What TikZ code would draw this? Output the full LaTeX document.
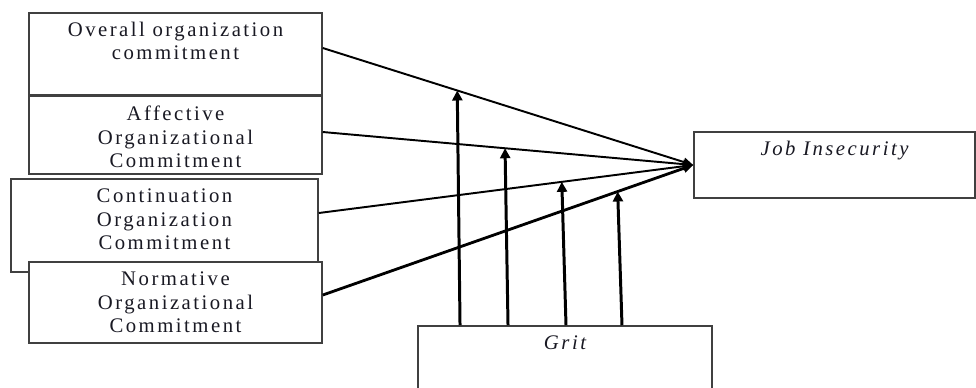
\documentclass[tikz,border=0pt]{standalone}
\usepackage{fontspec}
\setmainfont{Liberation Serif}
\newfontfamily\boxfont[LetterSpace=12]{Liberation Serif}
\definecolor{boxgray}{RGB}{64,64,64}
\definecolor{textdark}{RGB}{25,25,35}
\usetikzlibrary{positioning, arrows.meta}

\begin{document}
\begin{tikzpicture}[
    x=0.02cm, y=-0.02cm,
    varbox/.style={draw=boxgray, fill=white, line width=0.9pt, inner sep=0pt},
    boxtext/.style={font=\boxfont\fontsize{11.8}{13.3}\selectfont, text=textdark,
      align=center, inner sep=0pt},
    effect/.style={line width=1.1pt, -{Triangle[length=0.2cm, width=0.17cm]}},
    moderate/.style={line width=1.7pt, -{Triangle[length=0.2cm, width=0.2cm]}},
    node distance=0.21cm,
  ]
    \useasboundingbox (0,0) rectangle (976,387);

    % predictor boxes
    \node[varbox, minimum width=5.86cm, minimum height=1.65cm] (overall) at (175.5,54) {};
    \node[varbox, minimum width=5.86cm, minimum height=1.56cm] (affective) at (175.5,135) {};
    \node[varbox, minimum width=6.14cm, minimum height=1.86cm] (continuation) at (164.5,225.5) {};
    \node[varbox, minimum width=5.86cm, minimum height=1.62cm] (normative) at (175.5,302.5) {};

    \node[boxtext, below=0.19cm of overall.north] (overalltxt) {Overall organization\\commitment};
    \node[boxtext, below=of affective.north] (affectivetxt) {Affective\\Organizational\\Commitment};
    \node[boxtext, below=of continuation.north] (continuationtxt) {Continuation\\Organization\\Commitment};
    \node[boxtext, below=of normative.north] (normativetxt) {Normative\\Organizational\\Commitment};

    % outcome and moderator
    \node[varbox, minimum width=5.62cm, minimum height=1.32cm] (job) at (834.5,165) {};
    \node[boxtext, below=0.19cm of job.north, font=\boxfont\itshape\fontsize{11.8}{13.3}\selectfont] (jobtxt) {Job Insecurity};
    \node[varbox, minimum width=5.88cm, minimum height=2cm] (grit) at (565,376) {};
    \node[boxtext, below=0.2cm of grit.north, font=\boxfont\itshape\fontsize{11.8}{13.3}\selectfont] (grittxt) {Grit};

    % direct effects
    \draw[effect] ([yshift=0.12cm]overall.east) -- (job.west) coordinate[pos=0.363] (m1);
    \draw[effect] ([yshift=0.06cm]affective.east) -- (job.west) coordinate[pos=0.492] (m2);
    \draw[effect] ([yshift=0.25cm]continuation.east) -- (job.west) coordinate[pos=0.649] (m3);
    \draw[effect, line width=1.6pt] ([yshift=0.15cm]normative.east) -- (job.west) coordinate[pos=0.796] (m4);

    % moderation
    \draw[moderate] ([xshift=-2.1cm]grit.north) -- (m1);
    \draw[moderate] ([xshift=-1.14cm]grit.north) -- (m2);
    \draw[moderate] ([xshift=0.02cm]grit.north) -- (m3);
    \draw[moderate] ([xshift=1.14cm]grit.north) -- (m4);
  \end{tikzpicture}
\end{document}
